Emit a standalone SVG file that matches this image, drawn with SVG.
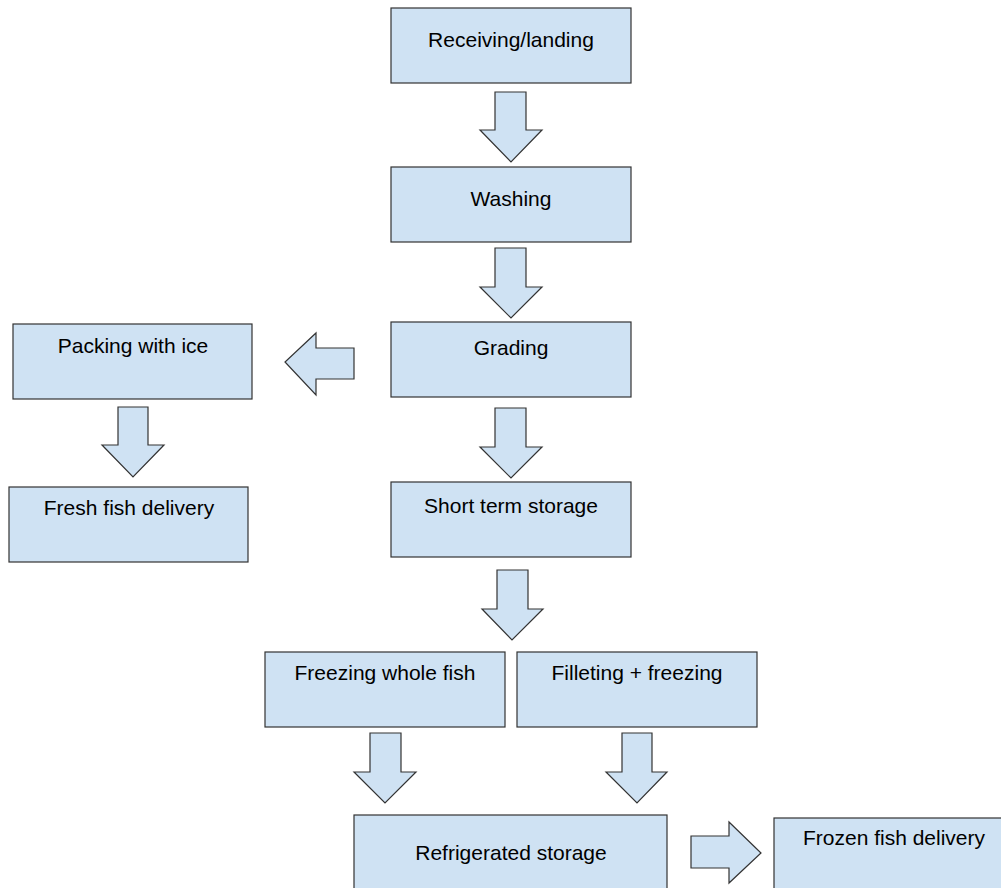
<svg xmlns="http://www.w3.org/2000/svg" width="1001" height="888" viewBox="0 0 1001 888">
<style>
.box{fill:#cfe2f3;stroke:#333;stroke-width:1.2}
.arr{fill:#cfe2f3;stroke:#333;stroke-width:1.2;stroke-linejoin:miter}
.lbl{font-family:"Liberation Sans",Arial,sans-serif;font-size:21px;fill:#000;text-anchor:middle}
</style>
<rect width="1001" height="888" fill="#fff"/>
<g id="connectors">
<polygon class="arr" points="495,92 526,92 526,130 542,130 511,162 480,130 495,130"/>
<polygon class="arr" points="495,248 526,248 526,287 542,287 511,318 480,287 495,287"/>
<polygon class="arr" points="495,408 526,408 526,447 542,447 511,478 480,447 495,447"/>
<polygon class="arr" points="354,348 354,379 316,379 316,395 285,362 316,333 316,348"/>
<polygon class="arr" points="118,407 148,407 148,445 164,445 133,477 102,445 118,445"/>
<polygon class="arr" points="497,570 528,570 528,609 543,609 512,640 482,609 497,609"/>
<polygon class="arr" points="370,733 401,733 401,772 416,772 385,803 354,772 370,772"/>
<polygon class="arr" points="622,733 652,733 652,772 667,772 637,803 606,772 622,772"/>
<polygon class="arr" points="691,836 729,836 729,822 761,853 729,883 729,868 691,868"/>
</g>
<g id="receiving"><rect class="box" x="391" y="8" width="240" height="75"/><text class="lbl" x="511" y="47">Receiving/landing</text></g>
<g id="washing"><rect class="box" x="391" y="167" width="240" height="75"/><text class="lbl" x="511" y="206">Washing</text></g>
<g id="grading"><rect class="box" x="391" y="322" width="240" height="75"/><text class="lbl" x="511" y="355">Grading</text></g>
<g id="packing"><rect class="box" x="13" y="324" width="239" height="75"/><text class="lbl" x="133" y="353">Packing with ice</text></g>
<g id="fresh"><rect class="box" x="9" y="487" width="239" height="75"/><text class="lbl" x="129" y="515">Fresh fish delivery</text></g>
<g id="shortterm"><rect class="box" x="391" y="482" width="240" height="75"/><text class="lbl" x="511" y="513">Short term storage</text></g>
<g id="freezingwhole"><rect class="box" x="265" y="652" width="240" height="75"/><text class="lbl" x="385" y="680">Freezing whole fish</text></g>
<g id="filleting"><rect class="box" x="517" y="652" width="240" height="75"/><text class="lbl" x="637" y="680">Filleting + freezing</text></g>
<g id="refrigerated"><rect class="box" x="354" y="815" width="313" height="80"/><text class="lbl" x="511" y="860">Refrigerated storage</text></g>
<g id="frozen"><rect class="box" x="774" y="818" width="240" height="80"/><text class="lbl" x="894" y="845">Frozen fish delivery</text></g>
</svg>
